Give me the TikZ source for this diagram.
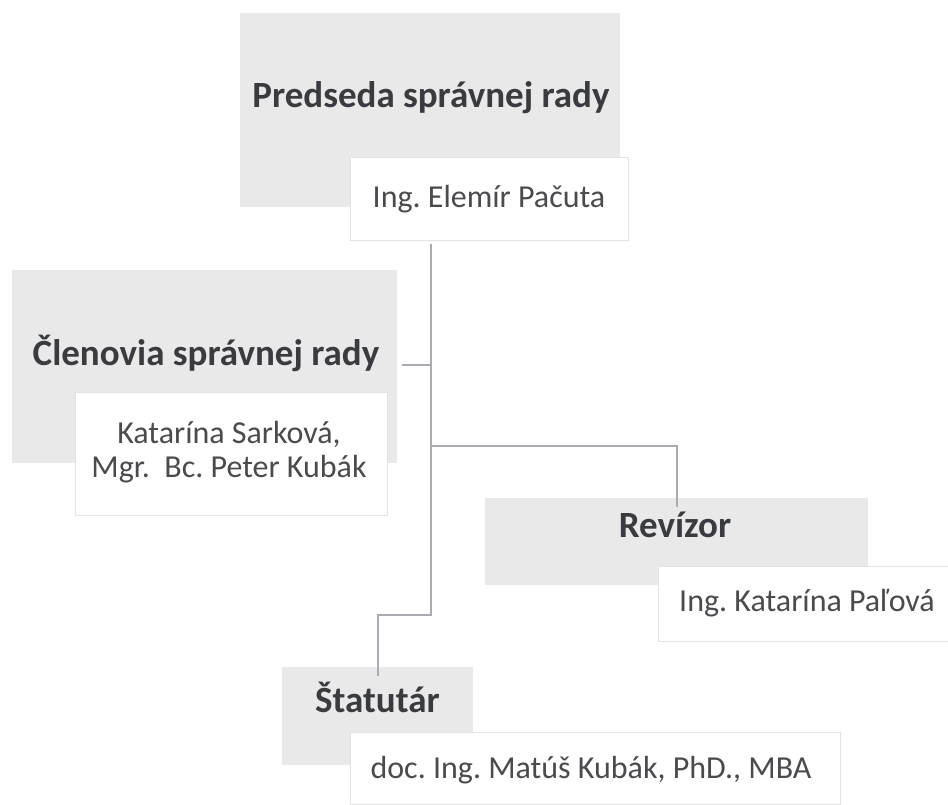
\documentclass[tikz,border=0pt]{standalone}
\usepackage{fontspec}
\setmainfont{Carlito}
\frenchspacing
\usetikzlibrary{calc}
\definecolor{boxgray}{HTML}{E9E9EA}
\definecolor{linegray}{HTML}{ABABB3}
\definecolor{titlegray}{HTML}{3A3B3E}
\definecolor{namegray}{HTML}{4A4B4E}
\tikzset{
  graybox/.style={shape=rectangle, fill=boxgray, draw=none, inner sep=0pt, anchor=north west},
  namebox/.style={shape=rectangle, fill=white, draw=black!11, line width=0.8pt, inner sep=0pt, anchor=north west},
  titletext/.style={font=\fontsize{37}{42}\selectfont\bfseries, text=titlegray, inner sep=0pt, anchor=base},
  nametext/.style={font=\fontsize{32}{36}\selectfont, text=namegray, inner sep=0pt, anchor=base, align=center},
  conn/.style={draw=linegray, line width=2.2pt}
}

\begin{document}
\begin{tikzpicture}[x=1pt, y=-1pt]
        \useasboundingbox (0,0) rectangle (948,805);

        % predseda
        \node[graybox, minimum width=380pt, minimum height=194pt] (pred) at (240,13) {};
        \node[namebox, minimum width=278pt, minimum height=83pt] (predname) at (350,157) {};
        \node[titletext] (predtitle) at (431,108) {Predseda správnej rady};
        \node[nametext] (predpers) at (489,208) {Ing. Elemír Pačuta};

        % clenovia
        \node[graybox, minimum width=385pt, minimum height=193pt] (clen) at (12,270) {};
        \node[namebox, minimum width=312pt, minimum height=123pt] (clenname) at (75,392) {};
        \node[titletext] (clentitle) at (206,365) {Členovia správnej rady};
        \node[nametext] (clenpers1) at (229,443) {Katarína Sarková,};
        \node[nametext] (clenpers2) at (229,477) {Mgr.\ \ Bc. Peter Kubák};

        % revizor
        \node[graybox, minimum width=383pt, minimum height=87pt] (rev) at (485,498) {};
        \node[namebox, minimum width=300pt, minimum height=75pt] (revname) at (658,566) {};
        \node[titletext] (revtitle) at (675,537) {Revízor};
        \node[nametext] (revpers) at (807,611) {Ing. Katarína Paľová};

        % statutar
        \node[graybox, minimum width=191pt, minimum height=98pt] (stat) at (282,667) {};
        \node[namebox, minimum width=490pt, minimum height=72pt] (statname) at (350,732) {};
        \node[titletext, anchor=base west] (stattitle) at (315,712) {Štatutár};
        \node[nametext] (statpers) at (591,778) {doc. Ing. Matúš Kubák, PhD., MBA};

        % lines
        \coordinate (clenend) at (402,365);
        \coordinate (clenjoin) at (431,365);
        \coordinate (revjoin) at (431,446);
        \coordinate (statjoin) at (431,615);
        \draw[conn, shorten <=3pt] (predname.south -| clenjoin) -- (statjoin) -| ([yshift=-9pt]stat.north);
        \draw[conn] (revjoin) -| ([yshift=-9pt]rev.north);
        \draw[conn] (clenend) -- (clenjoin);

\end{tikzpicture}
\end{document}
